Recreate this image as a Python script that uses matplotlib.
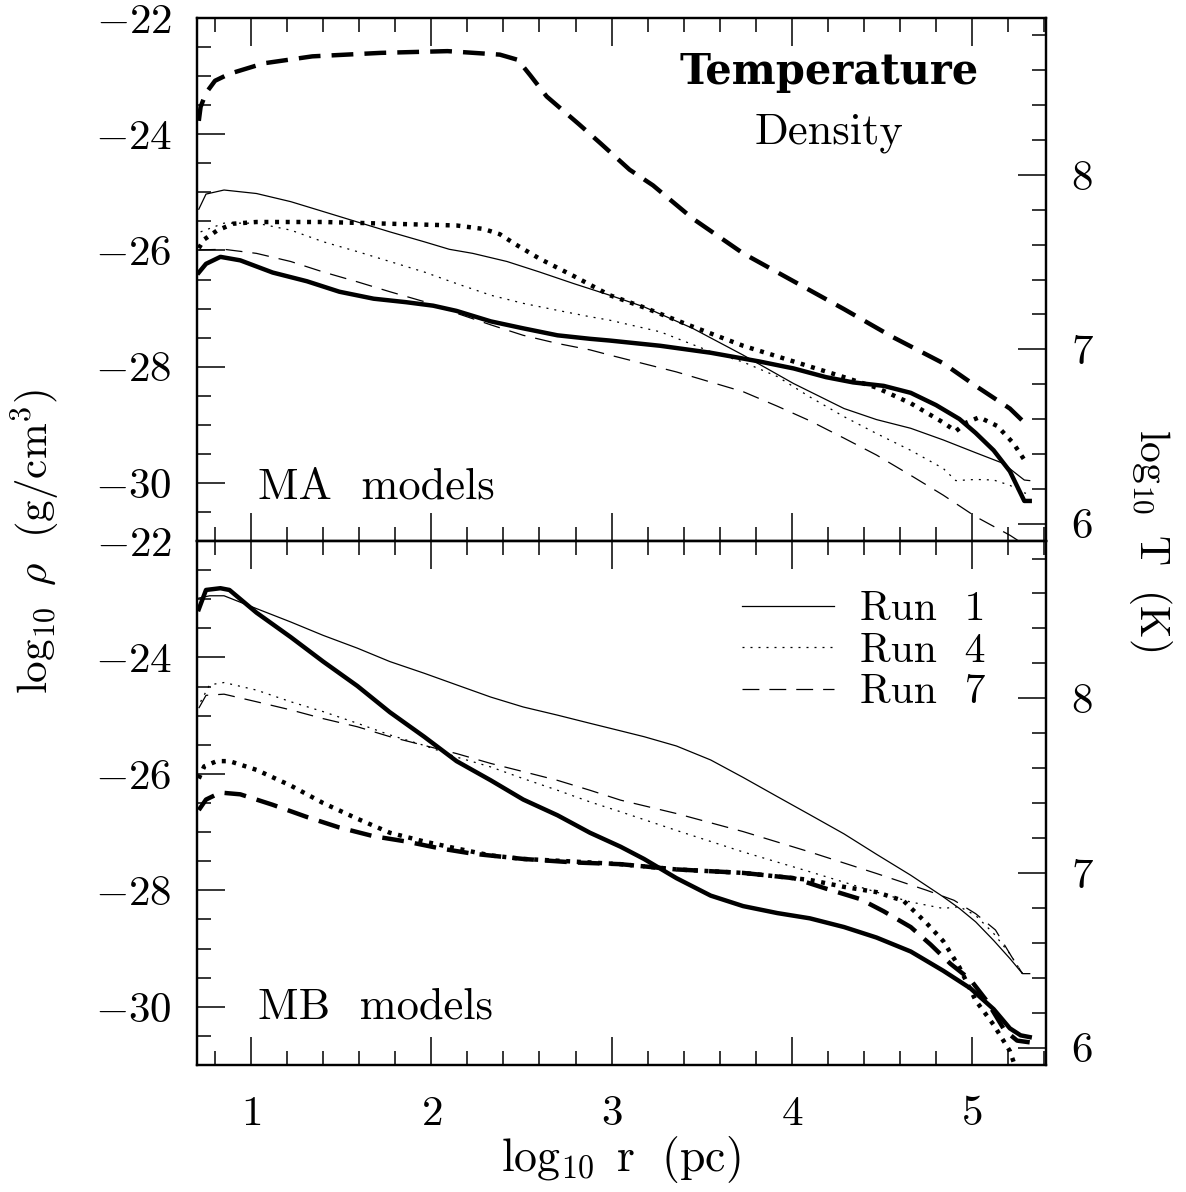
import matplotlib

matplotlib.use("Agg")
import matplotlib.pyplot as plt
from matplotlib.lines import Line2D
from matplotlib.ticker import FuncFormatter, MultipleLocator

plt.rcParams["mathtext.fontset"] = "cm"
plt.rcParams["font.family"] = ["cmr10", "DejaVu Serif"]

# ---- MA models (top panel) ----
ma_rho1_x = [0.71, 0.75, 0.85, 1.03, 1.22, 1.40, 1.59, 1.77, 1.96, 2.10, 2.23, 2.42, 2.60, 2.79,
             2.99, 3.18, 3.45, 3.73, 4.01, 4.29, 4.47, 4.66, 4.84, 5.02, 5.17, 5.29, 5.32]
ma_rho1 = [-25.29, -25.03, -24.96, -25.02, -25.16, -25.33, -25.51, -25.68, -25.85, -25.98, -26.05,
           -26.19, -26.37, -26.57, -26.77, -26.97, -27.34, -27.80, -28.29, -28.72, -28.91, -29.06,
           -29.26, -29.48, -29.66, -29.95, -29.96]
ma_rho4_x = [0.72, 0.85, 1.03, 1.22, 1.40, 1.59, 1.77, 1.96, 2.14, 2.33, 2.51, 2.70, 2.88, 2.99,
             3.27, 3.55, 3.73, 3.92, 4.10, 4.29, 4.47, 4.66, 4.84, 4.91, 5.02, 5.12, 5.21, 5.27, 5.32]
ma_rho4 = [-25.68, -25.53, -25.53, -25.65, -25.85, -26.02, -26.19, -26.37, -26.57, -26.77, -26.91,
           -27.03, -27.14, -27.20, -27.40, -27.74, -27.92, -28.17, -28.52, -28.86, -29.15, -29.44,
           -29.75, -29.96, -29.94, -29.95, -30.04, -30.15, -30.20]
ma_rho7_x = [0.71, 0.85, 1.03, 1.22, 1.40, 1.59, 1.77, 1.96, 2.14, 2.33, 2.51, 2.70, 2.88, 2.99,
             3.36, 3.73, 3.92, 4.10, 4.29, 4.47, 4.66, 4.84, 5.02, 5.21, 5.26]
ma_rho7 = [-25.99, -25.98, -26.05, -26.19, -26.37, -26.54, -26.71, -26.88, -27.08, -27.28, -27.46,
           -27.60, -27.71, -27.80, -28.09, -28.43, -28.68, -28.93, -29.23, -29.52, -29.87, -30.21,
           -30.58, -30.90, -31.00]
ma_T1_x = [0.71, 0.75, 0.83, 0.94, 1.12, 1.31, 1.49, 1.68, 1.86, 2.01, 2.14, 2.33, 2.51, 2.70,
           2.88, 2.99, 3.27, 3.55, 3.82, 4.01, 4.19, 4.34, 4.51, 4.66, 4.80, 4.93, 5.02, 5.12,
           5.21, 5.29, 5.32]
ma_T1 = [7.44, 7.49, 7.53, 7.51, 7.44, 7.39, 7.33, 7.29, 7.27, 7.25, 7.22, 7.16, 7.12, 7.08, 7.06,
         7.05, 7.02, 6.98, 6.93, 6.89, 6.84, 6.81, 6.79, 6.75, 6.68, 6.60, 6.52, 6.42, 6.30, 6.13,
         6.13]
ma_T4_x = [0.71, 0.74, 0.81, 0.90, 1.03, 1.40, 1.77, 2.14, 2.29, 2.38, 2.47, 2.60, 2.79, 2.99,
           3.18, 3.45, 3.73, 4.01, 4.29, 4.47, 4.66, 4.84, 4.91, 4.97, 5.04, 5.14, 5.23, 5.30]
ma_T4 = [7.58, 7.63, 7.68, 7.72, 7.73, 7.73, 7.72, 7.71, 7.69, 7.66, 7.60, 7.52, 7.42, 7.31, 7.24,
         7.13, 7.02, 6.93, 6.84, 6.78, 6.69, 6.58, 6.53, 6.58, 6.61, 6.56, 6.46, 6.35]
ma_T7_x = [0.71, 0.72, 0.75, 0.80, 0.88, 1.07, 1.34, 1.72, 2.09, 2.38, 2.48, 2.55, 2.64, 2.82,
           2.94, 3.10, 3.23, 3.45, 3.73, 4.01, 4.29, 4.56, 4.84, 5.02, 5.21, 5.29, 5.32]
ma_T7 = [8.31, 8.39, 8.47, 8.54, 8.58, 8.64, 8.68, 8.70, 8.71, 8.69, 8.66, 8.57, 8.45, 8.29, 8.18,
         8.03, 7.94, 7.75, 7.55, 7.39, 7.23, 7.07, 6.92, 6.79, 6.66, 6.58, 6.58]

# ---- MB models (bottom panel) ----
mb_rho1_x = [0.71, 0.77, 0.85, 1.03, 1.22, 1.40, 1.59, 1.77, 1.96, 2.14, 2.33, 2.51, 2.70, 2.88,
             3.05, 3.18, 3.36, 3.55, 3.73, 3.92, 4.10, 4.29, 4.47, 4.66, 4.84, 4.93, 5.02, 5.12,
             5.21, 5.28, 5.32]
mb_rho1 = [-22.98, -22.94, -22.94, -23.16, -23.39, -23.62, -23.84, -24.07, -24.27, -24.47, -24.68,
           -24.85, -24.99, -25.13, -25.26, -25.36, -25.52, -25.76, -26.06, -26.39, -26.70, -27.03,
           -27.38, -27.74, -28.11, -28.31, -28.54, -28.86, -29.17, -29.43, -29.43]
mb_rho4_x = [0.72, 0.77, 0.85, 1.03, 1.22, 1.40, 1.59, 1.77, 1.96, 2.14, 2.33, 2.51, 2.70, 2.88,
             3.05, 3.36, 3.73, 4.10, 4.47, 4.66, 4.84, 4.93, 5.02, 5.12, 5.21, 5.28]
mb_rho4 = [-24.76, -24.47, -24.43, -24.56, -24.76, -24.93, -25.13, -25.33, -25.51, -25.71, -25.88,
           -26.08, -26.28, -26.48, -26.65, -26.97, -27.34, -27.68, -28.03, -28.20, -28.31, -28.28,
           -28.43, -28.74, -29.09, -29.43]
mb_rho7_x = [0.71, 0.75, 0.85, 1.03, 1.22, 1.40, 1.59, 1.77, 1.96, 2.14, 2.33, 2.51, 2.70, 2.88,
             3.05, 3.36, 3.73, 4.10, 4.47, 4.75, 4.90, 5.02, 5.13, 5.22, 5.28]
mb_rho7 = [-24.87, -24.65, -24.63, -24.76, -24.90, -25.05, -25.19, -25.36, -25.51, -25.65, -25.82,
           -25.96, -26.11, -26.28, -26.45, -26.68, -26.99, -27.34, -27.71, -28.00, -28.17, -28.40,
           -28.68, -29.14, -29.43]
mb_T1_x = [0.71, 0.75, 0.83, 0.88, 1.03, 1.22, 1.40, 1.59, 1.77, 1.96, 2.14, 2.33, 2.51, 2.70,
           2.88, 3.05, 3.18, 3.36, 3.55, 3.73, 3.92, 4.10, 4.29, 4.47, 4.66, 4.84, 4.99, 5.12,
           5.21, 5.27, 5.32]
mb_T1 = [8.51, 8.62, 8.63, 8.62, 8.49, 8.35, 8.21, 8.07, 7.92, 7.78, 7.64, 7.53, 7.42, 7.33, 7.23,
         7.15, 7.08, 6.97, 6.87, 6.81, 6.77, 6.74, 6.69, 6.63, 6.55, 6.44, 6.34, 6.22, 6.11, 6.07,
         6.06]
mb_T4_x = [0.71, 0.74, 0.81, 0.88, 1.03, 1.22, 1.40, 1.59, 1.77, 1.96, 2.14, 2.33, 2.51, 2.70,
           2.88, 3.05, 3.36, 3.73, 4.10, 4.29, 4.47, 4.62, 4.75, 4.84, 4.93, 5.02, 5.12, 5.21, 5.24]
mb_T4 = [7.54, 7.61, 7.64, 7.64, 7.59, 7.50, 7.40, 7.31, 7.23, 7.18, 7.14, 7.10, 7.08, 7.07, 7.06,
         7.05, 7.02, 7.00, 6.96, 6.92, 6.89, 6.84, 6.71, 6.61, 6.46, 6.27, 6.13, 5.98, 5.89]
mb_T7_x = [0.71, 0.75, 0.83, 0.94, 1.12, 1.31, 1.49, 1.68, 1.86, 2.05, 2.23, 2.51, 2.79, 3.05,
           3.36, 3.73, 4.01, 4.19, 4.38, 4.51, 4.66, 4.77, 4.88, 4.99, 5.08, 5.18, 5.25, 5.32]
mb_T7 = [7.36, 7.42, 7.46, 7.45, 7.39, 7.32, 7.26, 7.21, 7.18, 7.14, 7.11, 7.08, 7.06, 7.05, 7.02,
         7.00, 6.97, 6.91, 6.85, 6.78, 6.69, 6.59, 6.48, 6.39, 6.27, 6.10, 6.04, 6.03]

run_labels = ["Run  1", "Run  4", "Run  7"]

THICK, THIN = 3.2, 0.9
styles = {
    "solid": "-",
    "dotted_thick": (0, (0.9, 1.5)),
    "dashed_thick": (0, (4.9, 2.5)),
    "dotted_thin": (0, (1.6, 4.8)),
    "dashed_thin": (0, (13.5, 8.0)),
}

FS_TICK = 31
FS_TEXT = 32
XLIM = (0.7, 5.41)
RHO_LIM = (-31, -22)
T_LIM = (5.9, 8.9)

fig = plt.figure(figsize=(11.86, 11.92), dpi=100)
ax_top = fig.add_axes([0.1661, 0.5461, 0.7158, 0.4388])
ax_bot = fig.add_axes([0.1661, 0.1065, 0.7158, 0.4396])

mfmt = FuncFormatter(lambda v, p: r"$%g$" % v)


def setup(ax, show_x):
    axt = ax.twinx()
    ax.set_xlim(*XLIM)
    ax.set_ylim(*RHO_LIM)
    axt.set_ylim(*T_LIM)
    ax.xaxis.set_major_locator(MultipleLocator(1))
    ax.xaxis.set_minor_locator(MultipleLocator(0.2))
    ax.yaxis.set_major_locator(MultipleLocator(2))
    ax.yaxis.set_minor_locator(MultipleLocator(0.5))
    axt.yaxis.set_major_locator(MultipleLocator(1))
    axt.yaxis.set_minor_locator(MultipleLocator(0.2))
    ax.xaxis.set_major_formatter(mfmt)
    ax.yaxis.set_major_formatter(mfmt)
    axt.yaxis.set_major_formatter(mfmt)
    ax.tick_params(which="both", direction="in", top=True, bottom=True, left=True, right=False,
                   labelbottom=show_x, labelsize=FS_TICK, width=1.1)
    ax.tick_params(which="major", length=20)
    ax.tick_params(which="minor", length=10)
    ax.tick_params(axis="y", pad=18)
    ax.tick_params(axis="x", pad=22)
    axt.tick_params(which="both", direction="in", right=True, labelsize=FS_TICK, width=1.1,
                    pad=18)
    axt.tick_params(which="major", length=20)
    axt.tick_params(which="minor", length=10)
    for a in (ax, axt):
        for s in a.spines.values():
            s.set_linewidth(1.6)
    return axt


axT_top = setup(ax_top, False)
axT_bot = setup(ax_bot, True)


def draw(ax, axt, rho, temps):
    for (x, y), ls in zip(rho, ("solid", "dotted_thin", "dashed_thin")):
        ax.plot(x, y, color="black", lw=THIN, ls=styles[ls], dash_capstyle="butt")
    for (x, y), ls in zip(temps, ("solid", "dotted_thick", "dashed_thick")):
        axt.plot(x, y, color="black", lw=THICK, ls=styles[ls], dash_capstyle="butt",
                 solid_joinstyle="round")


draw(ax_top, axT_top,
     [(ma_rho1_x, ma_rho1), (ma_rho4_x, ma_rho4), (ma_rho7_x, ma_rho7)],
     [(ma_T1_x, ma_T1), (ma_T4_x, ma_T4), (ma_T7_x, ma_T7)])
draw(ax_bot, axT_bot,
     [(mb_rho1_x, mb_rho1), (mb_rho4_x, mb_rho4), (mb_rho7_x, mb_rho7)],
     [(mb_T1_x, mb_T1), (mb_T4_x, mb_T4), (mb_T7_x, mb_T7)])

# annotations
ax_top.text(0.745, 0.897, "Temperature", transform=ax_top.transAxes, family="DejaVu Serif",
            weight="bold", ha="center", va="center", fontsize=30)
ax_top.text(0.745, 0.78, "Density", transform=ax_top.transAxes,
            ha="center", va="center", fontsize=FS_TEXT)
ax_top.text(0.072, 0.103, "MA  models", transform=ax_top.transAxes,
            ha="left", va="center", fontsize=FS_TEXT)
ax_bot.text(0.072, 0.109, "MB  models", transform=ax_bot.transAxes,
            ha="left", va="center", fontsize=FS_TEXT)

handles = [Line2D([], [], color="black", lw=THIN, ls=styles[s])
           for s in ("solid", "dotted_thin", "dashed_thin")]
axT_bot.legend(handles, run_labels, loc="upper right", bbox_to_anchor=(0.953, 0.945),
               frameon=False, fontsize=30, handlelength=2.2, handletextpad=0.62,
               labelspacing=0.1, borderpad=0)

fig.text(0.523, 0.027, r"$\log_{10}\ \mathrm{r}\ \ (\mathrm{pc})$", ha="center", va="center",
         fontsize=33)
fig.text(0.03, 0.546, r"$\log_{10}\ \rho\ \ (\mathrm{g/cm^3})$", ha="center", va="center",
         rotation=90, fontsize=31)
fig.text(0.97, 0.547, r"$\log_{10}\ \mathrm{T}\ \ (\mathrm{K})$", ha="center", va="center",
         rotation=-90, fontsize=30)

fig.savefig("out.png", dpi=100)
